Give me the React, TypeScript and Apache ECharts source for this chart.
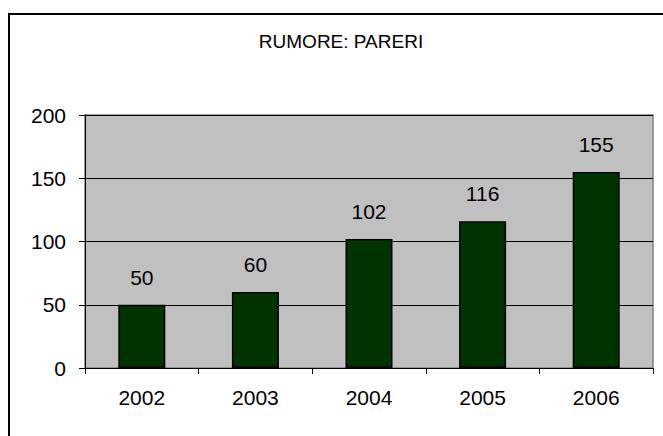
import React, { useEffect, useRef } from "react";
import * as echarts from "echarts";

const TITLE = "RUMORE: PARERI";
const categories = ["2002", "2003", "2004", "2005", "2006"];
const values = [50, 60, 102, 116, 155];
const yMin = 0;
const yMax = 200;
const yStep = 50;

export default function App() {
  const ref = useRef<HTMLDivElement>(null);
  useEffect(() => {
    if (!ref.current) return;
    const chart = echarts.init(ref.current, null, { renderer: "svg" });
    const font = "'Liberation Sans', Arial, sans-serif";
    chart.setOption({
      animation: false,
      backgroundColor: "#ffffff",
      textStyle: { fontFamily: font },
      graphic: [
        {
          type: "rect",
          shape: { x: 9, y: 14, width: 680, height: 450 },
          style: { fill: "none", stroke: "#000000", lineWidth: 2 },
          z: 100,
        },
        {
          type: "text",
          x: 341,
          y: 41,
          style: {
            text: TITLE,
            fontFamily: font,
            fontSize: 19,
            fill: "#000000",
            align: "center",
            verticalAlign: "middle",
          },
        },
      ],
      grid: {
        left: 85,
        top: 115,
        width: 568,
        height: 253,
        show: true,
        backgroundColor: "#c0c0c0",
        borderColor: "#808080",
        borderWidth: 1.5,
      },
      xAxis: {
        type: "category",
        data: categories,
        axisLine: { show: true, lineStyle: { color: "#000000", width: 1 } },
        axisTick: { show: true, alignWithLabel: false, length: 6, lineStyle: { color: "#000000" } },
        axisLabel: { color: "#000000", fontSize: 21, margin: 19, fontFamily: font },
        splitLine: { show: false },
      },
      yAxis: {
        type: "value",
        min: yMin,
        max: yMax,
        interval: yStep,
        axisLine: { show: true, lineStyle: { color: "#000000", width: 1 } },
        axisTick: { show: true, length: 6, lineStyle: { color: "#000000" } },
        axisLabel: { color: "#000000", fontSize: 21, margin: 19, fontFamily: font },
        splitLine: { show: true, lineStyle: { color: "#000000", width: 1 } },
      },
      series: [
        {
          type: "bar",
          data: values,
          barWidth: 47,
          itemStyle: { color: "#003300", borderColor: "#000000", borderWidth: 1.5 },
          label: {
            show: true,
            position: "top",
            distance: 17,
            color: "#000000",
            fontSize: 21,
            fontFamily: font,
          },
        },
      ],
    });
    return () => chart.dispose();
  }, []);
  return (
    <div
      ref={ref}
      style={{ position: "fixed", left: 0, top: 0, width: 663, height: 436 }}
    />
  );
}
